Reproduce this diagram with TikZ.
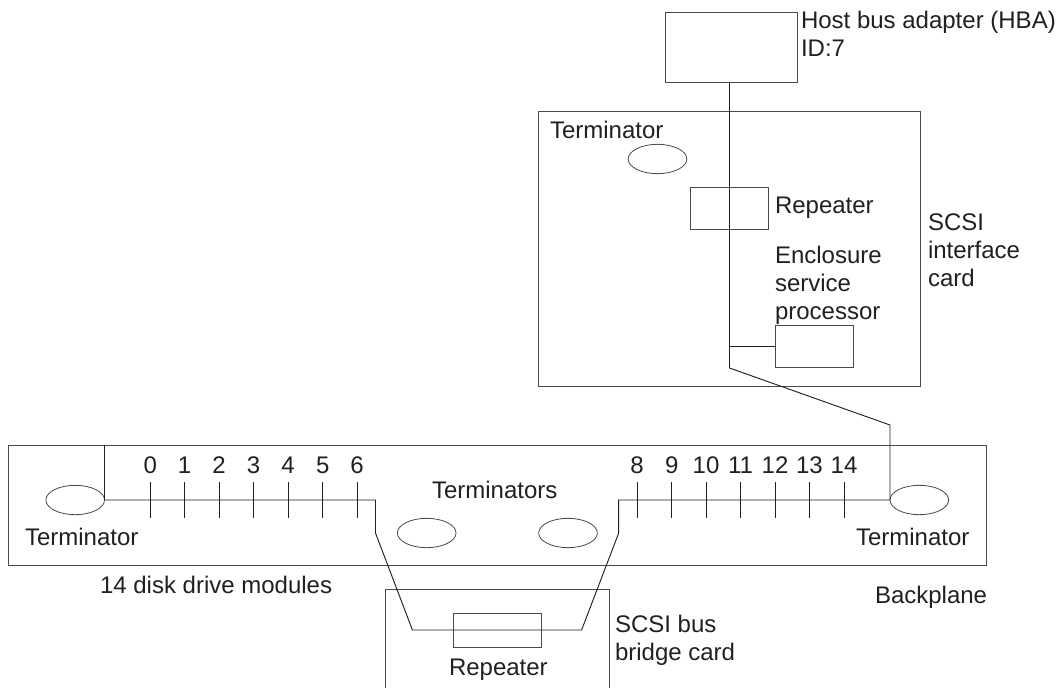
\documentclass[tikz,border=0pt]{standalone}
\usepackage{fontspec}
\setmainfont{Liberation Sans}
\usepackage{xcolor}
\definecolor{SCSIink}{HTML}{231F20}
\definecolor{SCSIline}{HTML}{4A4849}
\usetikzlibrary{calc, fit, positioning, shapes.geometric}

\begin{document}
\begin{tikzpicture}[x=0.75pt, y=-0.75pt]
    \tikzset{
  cardbox/.style={draw=SCSIline, line width=0.7pt, inner sep=0, outer sep=0},
  termoval/.style={ellipse, draw=SCSIline, line width=0.6pt, minimum width=44pt, minimum height=22pt, inner sep=0, outer sep=0},
  wire/.style={SCSIink, line width=0.7pt},
  textlab/.style={SCSIink, anchor=base west, inner sep=0, outer sep=0, align=left, font=\fontsize{18}{21}\selectfont},
  numlab/.style={SCSIink, anchor=base, inner sep=0, outer sep=0, font=\fontsize{18}{21}\selectfont},
}
\useasboundingbox (0,0) rectangle (1059,688);

% ── Host bus adapter ─────────────────────────────────────────
\node[cardbox, fit={(665.5,12) (797,82.5)}] (hba) {};
\node[textlab] (hbalab) at (801,57) {Host bus adapter (HBA)\\ID:7};

% ── SCSI interface card ──────────────────────────────────────
\node[cardbox, fit={(538,111) (920.5,386)}] (ifcard) {};
\node[textlab] (ifcardlab) at (928,286) {SCSI\\interface\\card};

\node[textlab] (iftermlab) at (550,138) {Terminator};
\node[termoval] (ifterm) at (657.5,159) {};

\node[cardbox, fit={(690.5,187) (768.5,229)}] (ifrep) {};
\node[textlab] (ifreplab) at (775,213) {Repeater};

\node[cardbox, fit={(775.5,325) (853,367)}] (esp) {};
\node[textlab] (esplab) at (775,319) {Enclosure\\service\\processor};

% ── Backplane ────────────────────────────────────────────────
\node[cardbox, fit={(8,445) (986,565)}] (backplane) {};
\node[textlab] (backlab) at (875,603) {Backplane};
\node[textlab] (disklab) at (100,593) {14 disk drive modules};

\node[termoval] (leftterm) at (75.2,500) {};
\node[textlab] (lefttermlab) at (25,545) {Terminator};
\node[termoval] (rightterm) at (919.3,500) {};
\node[textlab] (righttermlab) at (856,545) {Terminator};

\node[termoval] (midtermA) at (426.7,533) {};
\node[termoval] (midtermB) at (568,533) {};
\node[textlab] (midtermlab) at (432,498) {Terminators};

% ── Drive slots ──────────────────────────────────────────────
\foreach \x/\n in {150.4/0, 184.5/1, 219/2, 253.5/3, 288/4, 322.8/5, 357/6,
                   637/8, 671.7/9, 706/10, 740.5/11, 775/12, 809.4/13, 844/14} {
  \draw[wire] (\x,482) -- (\x,518);
  \node[numlab] (slot\n) at (\x,473) {\n};
}

% ── SCSI bus bridge card ─────────────────────────────────────
\draw[cardbox] (385.3,688) -- (385.3,589) -- (609,589) -- (609,688);
\node[textlab] (bridgelab) at (615,660) {SCSI bus\\bridge card};
\node[cardbox, fit={(453.3,613) (541,647)}] (bridgerep) {};
\node[textlab] (bridgereplab) at (449,675) {Repeater};

% ── Bus path ─────────────────────────────────────────────────
\coordinate (busbend) at (729.5,368);
\coordinate (busdrop) at (890,425);
\coordinate (leftdrop) at (375.5,500);
\coordinate (leftbend) at (375.5,533);
\coordinate (bridgeL) at (412.4,630);
\coordinate (bridgeR) at (581.6,630);
\coordinate (rightbend) at (618.7,533);
\coordinate (rightdrop) at (618.7,500);

\draw[wire] (busbend |- hba.south) -- (busbend) -- (busdrop) -- (rightterm.west);
\draw[wire] (esp.west) -- (esp.west -| busbend);
\draw[wire] (leftterm.east |- backplane.north) -- (leftterm.east);
\draw[wire] (leftterm.east) -- (leftdrop) -- (leftbend) -- (bridgeL)
  -- (bridgeR) -- (rightbend) -- (rightdrop) -- (rightterm.west);

  \end{tikzpicture}
\end{document}
